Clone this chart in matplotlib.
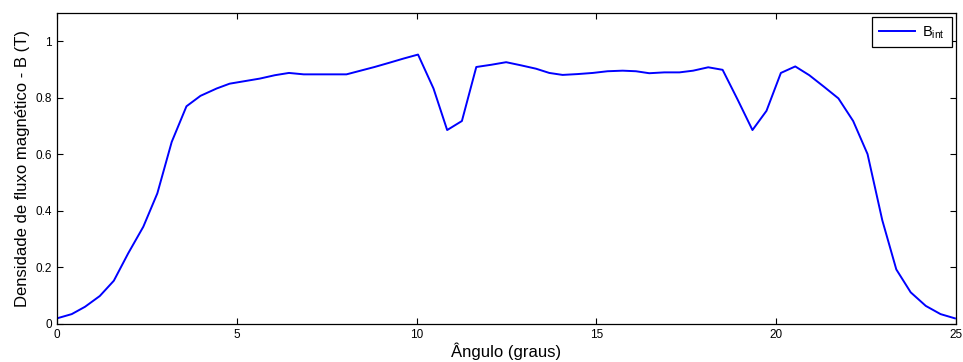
import matplotlib
matplotlib.use('Agg')
import matplotlib.pyplot as plt

plt.rcParams['font.family'] = ['Liberation Sans', 'DejaVu Sans']
plt.rcParams['mathtext.fontset'] = 'custom'
plt.rcParams['mathtext.rm'] = 'Liberation Sans'

# dados
angulo = [0.0, 0.41, 0.78, 1.19, 1.58, 1.98, 2.4, 2.79, 3.19, 3.6, 3.99, 4.44, 4.8,
          5.22, 5.64, 6.06, 6.45, 6.86, 7.26, 7.66, 8.05, 8.44, 8.83, 9.24, 9.64,
          10.04, 10.47, 10.85, 11.26, 11.66, 12.08, 12.49, 12.9, 13.32, 13.69, 14.06,
          14.48, 14.9, 15.31, 15.73, 16.1, 16.47, 16.89, 17.31, 17.69, 18.11, 18.51,
          18.93, 19.34, 19.73, 20.13, 20.53, 20.92, 21.33, 21.73, 22.14, 22.54, 22.95,
          23.34, 23.74, 24.16, 24.57, 24.97]
b_int = [0.02, 0.035, 0.061, 0.099, 0.153, 0.25, 0.344, 0.462, 0.644, 0.77, 0.807,
         0.833, 0.85, 0.859, 0.868, 0.88, 0.888, 0.883, 0.883, 0.883, 0.883, 0.896,
         0.909, 0.924, 0.939, 0.953, 0.833, 0.686, 0.718, 0.909, 0.917, 0.926, 0.915,
         0.903, 0.888, 0.881, 0.884, 0.888, 0.894, 0.896, 0.894, 0.887, 0.89, 0.89,
         0.896, 0.908, 0.899, 0.793, 0.686, 0.754, 0.888, 0.911, 0.88, 0.839, 0.798,
         0.718, 0.601, 0.367, 0.193, 0.112, 0.064, 0.035, 0.02]

fig = plt.figure(figsize=(9.63, 3.62), dpi=100)
ax = fig.add_axes([57 / 963, 1 - 324 / 362, 899 / 963, 311 / 362])

ax.plot(angulo, b_int, color=(0, 0, 1), linewidth=1.4, label=r'B$_{\mathrm{int}}$')

ax.set_xlim(0, 25)
ax.set_ylim(0, 1.1)
ax.set_xticks([0, 5, 10, 15, 20, 25])
ax.set_yticks([0, 0.2, 0.4, 0.6, 0.8, 1])
ax.set_yticklabels(['0', '0.2', '0.4', '0.6', '0.8', '1'])
ax.tick_params(direction='in', top=True, right=True, length=4, width=0.8,
               labelsize=8.5, colors='black')
for s in ax.spines.values():
    s.set_linewidth(0.9)

ax.set_xlabel('Ângulo (graus)', fontsize=12, labelpad=1)
ax.set_ylabel('Densidade de fluxo magnético - B (T)', fontsize=12, labelpad=4)

leg = ax.legend(loc='upper right', fontsize=10.5, fancybox=False, framealpha=1,
                edgecolor='black', borderaxespad=0.3, handlelength=2.5,
                borderpad=0.45, handletextpad=0.5)
leg.get_frame().set_linewidth(0.9)

plt.savefig('out.png', dpi=100)
